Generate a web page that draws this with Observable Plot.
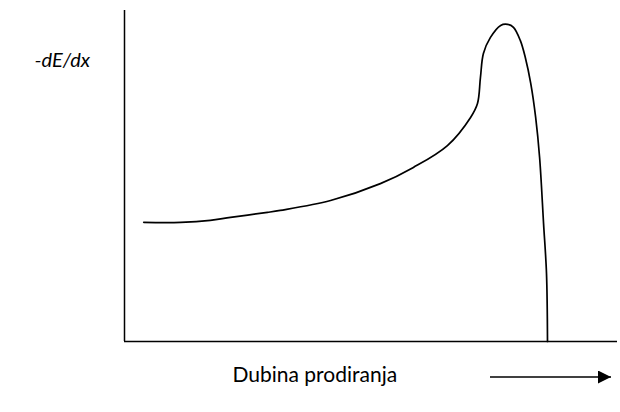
<!DOCTYPE html>
<html>
<head>
<meta charset="utf-8">
<script src="https://cdn.jsdelivr.net/npm/d3@7"></script>
<script src="https://cdn.jsdelivr.net/npm/@observablehq/plot@0.6"></script>
<style>
  html, body { margin: 0; padding: 0; background: #fff; }
  #chart svg { display: block; }
</style>
</head>
<body>
<div id="chart"></div>
<script>
// Penetration depth (arbitrary units, 0–100) and stopping power -dE/dx (arbitrary units, 0–100)
const depth = [3.9, 11.4, 17.4, 21.5, 29.0, 31.6, 41.8, 51.9, 58.6, 65.5, 70.2, 71.6, 72.2, 72.8, 74.2, 76.3, 77.7, 78.9, 80.3, 81.3, 82.4, 83.4, 84.2, 85.0, 85.6, 85.8];
const dEdx  = [36.0, 36.0, 36.6, 37.5, 39.0, 39.6, 42.6, 47.7, 52.6, 59.2, 67.7, 71.9, 79.8, 87.0, 91.8, 95.5, 95.8, 94.9, 90.9, 85.8, 78.0, 67.7, 55.6, 35.7, 20.5, 0];
const yLabel = "-dE/dx";
const xLabel = "Dubina prodiranja";

const data = depth.map((d, i) => ({depth: d, dEdx: dEdx[i]}));

const plot = Plot.plot({
  width: 620,
  height: 412,
  marginLeft: 124,
  marginTop: 10,
  marginRight: 3,
  marginBottom: 71,
  x: {domain: [0, 100], axis: null},
  y: {domain: [0, 100], axis: null},
  style: {background: "#fff", fontFamily: "Lato, 'Open Sans', sans-serif"},
  marks: [
    Plot.ruleX([0], {stroke: "#000", strokeWidth: 1.5}),
    Plot.ruleY([0], {stroke: "#000", strokeWidth: 1.5}),
    Plot.line(data, {x: "depth", y: "dEdx", curve: "catmull-rom", stroke: "#000", strokeWidth: 1.7}),
    Plot.text([yLabel], {frameAnchor: "top-left", textAnchor: "start", dx: -90, dy: 42, fontSize: 20, fontStyle: "italic", fill: "#000"}),
    Plot.text([xLabel], {frameAnchor: "bottom-left", textAnchor: "start", dx: 108, dy: 40, fontSize: 21, fill: "#000"})
  ]
});

// arrow next to the x label
const svg = d3.select(plot);
const defs = svg.append("defs");
defs.append("marker")
  .attr("id", "arrowhead")
  .attr("viewBox", "0 0 10 10")
  .attr("refX", 10).attr("refY", 5)
  .attr("markerWidth", 18).attr("markerHeight", 13)
  .attr("markerUnits", "userSpaceOnUse")
  .attr("orient", "auto")
  .append("path").attr("d", "M0,0 L10,5 L0,10 Z").attr("fill", "#000");
const arrowY = 412 - 71 + 36;
svg.append("line")
  .attr("x1", 490).attr("x2", 611)
  .attr("y1", arrowY).attr("y2", arrowY)
  .attr("stroke", "#000").attr("stroke-width", 1.5)
  .attr("marker-end", "url(#arrowhead)");

document.getElementById("chart").appendChild(plot);
</script>
</body>
</html>
